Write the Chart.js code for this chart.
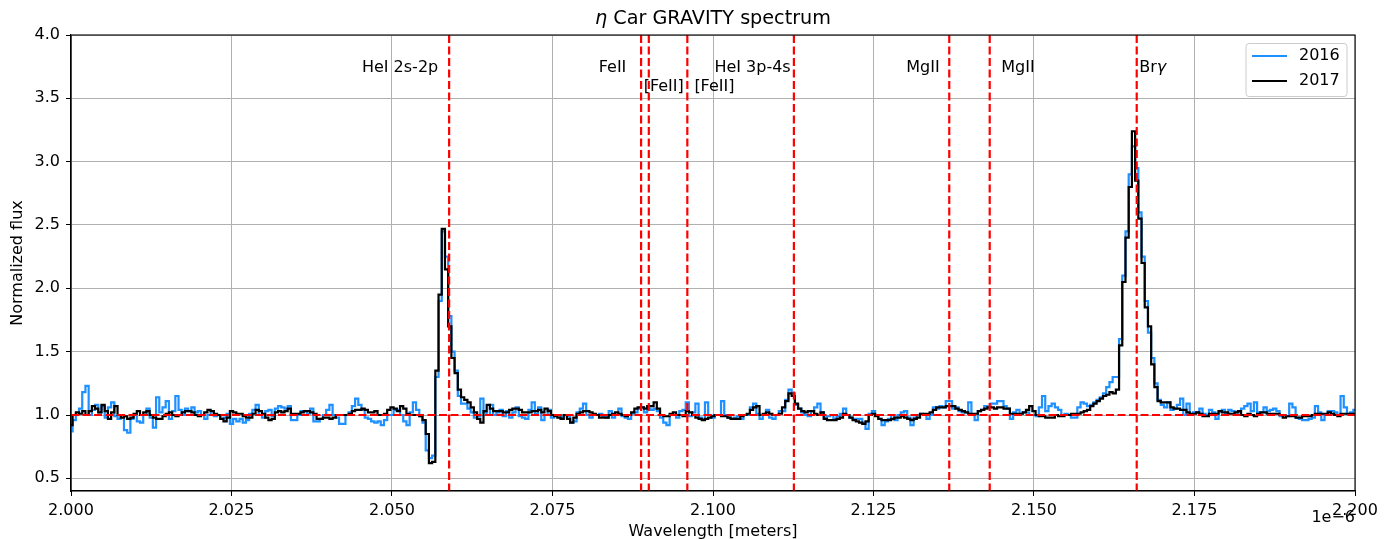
<!DOCTYPE html>
<html><head><meta charset="utf-8">
<script src="https://cdn.jsdelivr.net/npm/chart.js@4/dist/chart.umd.min.js"></script>
<style>html,body{margin:0;padding:0;background:#fff;}#wrap{width:1392px;height:539px;}</style>
</head><body><div id="wrap"><canvas id="c" width="1392" height="539"></canvas></div>
<script>
// Wavelength sampling grid (micrometres; axis shows 1e-6 m)
const wavelengthStart = 2.000;
const wavelengthStep = 0.0005;

const flux2016 = [
0.87,0.96,1.00,1.05,1.18,1.23,1.00,1.04,1.08,1.02,
1.07,0.98,1.06,1.10,0.99,0.97,1.00,0.88,0.86,0.97,
1.00,0.95,0.94,1.00,1.05,0.98,0.90,1.14,1.02,1.06,
1.11,0.97,1.03,1.15,1.04,1.00,1.05,1.03,1.06,1.02,
1.03,1.00,0.97,1.00,1.03,0.99,1.00,0.97,0.98,1.01,
0.93,0.97,0.95,0.97,0.94,0.96,1.01,1.04,1.08,1.00,
0.98,1.03,1.04,0.99,1.05,1.07,1.06,1.05,1.07,0.96,
0.96,1.00,1.03,1.03,1.01,1.05,0.95,0.95,0.97,1.00,
1.04,1.08,1.00,0.98,0.93,0.93,1.00,1.02,1.07,1.13,
1.08,1.04,0.98,0.97,0.95,0.94,0.95,0.92,0.96,1.00,
1.00,1.04,1.04,1.00,0.95,0.92,1.02,1.10,1.04,0.99,
0.94,0.72,0.66,0.68,1.30,1.90,2.45,2.25,1.78,1.50,
1.35,1.15,1.09,1.09,1.05,1.02,0.98,0.99,1.13,1.02,
1.00,1.08,1.00,1.02,1.04,0.99,1.03,0.98,1.02,1.06,
0.99,0.98,0.97,1.04,1.10,1.01,1.06,0.96,1.00,1.04,
0.98,1.00,1.00,0.98,1.00,0.99,0.94,0.95,1.02,1.05,
1.09,1.00,0.98,1.00,1.00,1.01,0.99,0.98,1.03,0.98,
1.00,1.05,0.99,0.98,0.97,1.01,1.02,1.05,1.06,1.02,
1.05,1.04,1.05,1.03,0.98,0.94,0.92,1.00,1.00,0.98,
1.03,1.04,1.10,0.99,1.02,1.09,0.98,0.97,1.10,1.00,
0.98,1.00,1.00,1.11,1.00,0.98,0.97,0.98,0.99,0.97,
1.00,1.00,1.06,1.09,1.01,0.97,1.00,1.04,0.98,0.97,
1.00,1.03,1.03,1.12,1.20,1.17,1.08,1.05,1.02,1.00,
0.99,1.03,1.06,1.09,1.02,0.98,0.99,1.00,0.97,0.99,
1.01,1.05,1.00,0.98,0.97,0.97,0.97,0.94,0.89,1.01,
1.03,1.00,0.97,0.92,0.95,0.97,1.00,0.96,1.00,1.02,
1.03,0.98,0.92,0.98,1.00,1.01,1.00,0.97,1.00,1.06,
1.05,1.07,1.06,1.11,1.11,1.05,1.06,1.03,1.02,1.02,
1.10,1.00,0.96,1.03,1.04,1.07,1.06,1.09,1.09,1.11,
1.11,1.07,1.05,0.97,1.02,1.04,1.01,1.02,1.02,1.00,
1.00,0.99,1.06,1.15,1.03,1.07,1.09,1.06,1.04,1.00,
1.01,1.00,0.98,0.98,1.06,1.10,1.09,1.07,1.08,1.10,
1.12,1.14,1.17,1.22,1.26,1.30,1.30,1.60,2.10,2.45,
2.90,3.12,2.95,2.60,2.25,1.90,1.65,1.45,1.25,1.12,
1.08,1.06,1.10,1.04,1.05,1.08,1.13,1.00,1.09,1.00,
1.02,1.02,1.05,1.01,1.00,1.04,1.02,0.97,1.03,1.04,
1.01,1.04,1.03,1.02,1.02,1.05,1.07,1.09,1.03,1.10,
1.02,1.02,1.06,1.03,1.04,1.05,1.03,0.99,1.00,0.99,
1.09,1.06,0.98,0.97,0.96,0.96,0.97,0.98,1.07,1.02,
0.96,1.00,1.03,1.03,1.02,1.00,1.15,1.06,1.01,1.02,
1.04];

const flux2017 = [
0.92,1.00,1.02,1.01,1.03,1.00,1.03,1.07,1.05,1.02,
1.08,1.03,0.97,1.02,1.07,1.00,0.98,0.99,0.97,0.98,
1.01,1.03,1.00,1.02,1.03,1.00,0.98,0.97,0.97,0.99,
1.01,1.02,1.00,0.99,1.00,1.02,1.03,1.03,1.02,1.00,
0.99,1.00,1.02,1.04,1.03,1.01,1.00,0.97,0.95,0.98,
1.03,1.02,1.01,1.01,0.99,0.98,0.98,1.01,1.04,1.03,
1.01,0.98,0.96,0.97,1.02,1.03,1.02,1.03,1.05,1.01,
1.01,1.01,1.02,1.03,1.03,1.02,1.01,0.97,0.97,0.98,
0.98,0.97,0.98,1.00,1.00,1.00,1.00,1.01,1.03,1.04,
1.04,1.05,1.04,1.02,1.02,1.03,1.00,1.00,1.01,1.04,
1.06,1.05,1.03,1.07,1.05,1.01,1.00,1.00,1.00,0.99,
0.96,0.85,0.62,0.63,1.35,1.95,2.47,2.15,1.70,1.45,
1.33,1.20,1.14,1.12,1.10,1.06,1.02,0.97,0.94,1.03,
1.08,1.05,1.03,1.03,1.03,1.02,1.02,1.04,1.05,1.05,
1.04,1.02,1.02,1.02,1.03,1.03,1.04,1.02,1.05,1.03,
1.00,0.99,0.98,0.97,1.00,0.97,0.94,0.98,1.01,1.02,
1.03,1.03,1.02,1.01,1.00,0.98,0.98,0.98,1.00,1.01,
1.02,1.01,1.00,0.99,1.00,1.02,1.05,1.06,1.06,1.05,
1.07,1.07,1.10,1.05,1.00,0.99,0.99,1.01,1.02,1.00,
1.00,0.99,1.03,1.02,1.00,0.98,0.97,0.96,0.97,0.98,
0.99,1.00,1.00,0.99,0.99,0.98,0.97,0.97,0.97,0.99,
1.00,1.01,1.04,1.06,1.07,1.00,1.01,1.02,1.01,1.00,
1.00,1.01,1.06,1.11,1.17,1.15,1.09,1.05,1.03,1.02,
1.03,1.03,1.01,1.00,1.02,0.97,0.96,0.96,0.96,0.97,
0.98,1.01,1.00,0.98,0.96,0.95,0.94,0.93,0.95,1.00,
1.01,0.99,0.97,0.96,0.96,0.96,0.97,0.98,0.98,0.99,
0.98,0.97,0.96,0.97,0.98,1.01,1.01,1.01,1.02,1.04,
1.06,1.06,1.06,1.07,1.07,1.07,1.05,1.04,1.03,1.02,
1.01,1.01,1.01,1.03,1.04,1.05,1.06,1.06,1.05,1.06,
1.06,1.05,1.05,1.01,1.01,1.01,1.01,1.02,1.04,1.07,
1.03,1.00,0.99,0.99,0.98,0.98,0.98,1.00,0.99,0.99,
1.00,1.00,1.01,1.01,1.01,1.02,1.03,1.04,1.07,1.09,
1.11,1.13,1.15,1.16,1.18,1.17,1.20,1.55,2.05,2.40,
2.80,3.24,2.85,2.55,2.20,1.85,1.70,1.40,1.22,1.11,
1.10,1.10,1.10,1.06,1.05,1.05,1.04,1.04,1.02,1.01,
1.01,1.02,1.01,0.99,0.99,1.01,1.01,1.01,1.03,1.02,
1.02,1.01,1.01,1.02,1.03,1.00,0.99,1.01,1.00,0.99,
1.01,1.02,1.02,1.01,1.01,1.01,1.01,1.00,0.98,0.99,
0.99,0.99,0.98,0.98,0.99,0.99,0.99,1.00,1.01,1.01,
1.01,1.01,1.02,1.01,1.00,0.99,1.01,1.01,1.01,1.01,
1.01];

const lineWavelengths = [2.0589, 2.0888, 2.0900, 2.0960, 2.1126, 2.1368, 2.1431, 2.1660];
const lineNames = ["HeI 2s-2p", "FeII", "[FeII]", "[FeII]", "HeI 3p-4s", "MgII", "MgII", "Brγ"];
const continuumLevel = 1.0;
const xTicks = [2.000, 2.025, 2.050, 2.075, 2.100, 2.125, 2.150, 2.175, 2.200];
const yTicks = [0.5, 1.0, 1.5, 2.0, 2.5, 3.0, 3.5, 4.0];
const seriesNames = ["2016", "2017"];

const wavelength = flux2016.map((_, i) => +(wavelengthStart + i * wavelengthStep).toFixed(4));

// label placement (data coords) for each line label
const labelPlacement = [
  {x: 2.0572, y: 3.74, align: 'right'},
  {x: 2.0865, y: 3.74, align: 'right'},
  {x: 2.0892, y: 3.59, align: 'left'},
  {x: 2.0971, y: 3.59, align: 'left'},
  {x: 2.1121, y: 3.74, align: 'right'},
  {x: 2.1353, y: 3.74, align: 'right'},
  {x: 2.1449, y: 3.74, align: 'left'},
  {x: 2.1664, y: 3.74, align: 'left'}
];

const FONT = '"DejaVu Sans", sans-serif';
const FS = 16;
Chart.defaults.font.family = FONT;
Chart.defaults.font.size = FS;
Chart.defaults.color = '#000';

const datasets = [
  {label: seriesNames[0], data: wavelength.map((w, i) => ({x: w, y: flux2016[i]})),
   borderColor: '#1e90ff', borderWidth: 2.2, stepped: 'middle', pointRadius: 0, order: 3, fill: false},
  {label: seriesNames[1], data: wavelength.map((w, i) => ({x: w, y: flux2017[i]})),
   borderColor: '#000000', borderWidth: 2.2, stepped: 'middle', pointRadius: 0, order: 2, fill: false},
  {label: 'continuum', data: [{x: xTicks[0], y: continuumLevel}, {x: xTicks[xTicks.length - 1], y: continuumLevel}],
   borderColor: '#ff0000', borderWidth: 2.2, borderDash: [8, 3.5], pointRadius: 0, order: 1, fill: false}
];
lineWavelengths.forEach(w => {
  datasets.push({label: 'line', data: [{x: w, y: 4.0}, {x: w, y: 0.4}],
    borderColor: '#ff0000', borderWidth: 2.2, borderDash: [8, 3.5], pointRadius: 0, order: 0, fill: false});
});

const overlay = {
  id: 'overlay',
  afterDraw(chart) {
    const {ctx, chartArea: a, scales: {x, y}} = chart;
    ctx.save();
    // axes frame
    ctx.strokeStyle = '#000'; ctx.lineWidth = 1.1; ctx.setLineDash([]);
    ctx.strokeRect(a.left, a.top, a.right - a.left, a.bottom - a.top);

    // line labels
    ctx.fillStyle = '#000'; ctx.textBaseline = 'middle';
    lineNames.forEach((name, i) => {
      const p = labelPlacement[i];
      const px = x.getPixelForValue(p.x), py = y.getPixelForValue(p.y);
      if (name.endsWith('γ')) {
        ctx.font = FS + 'px ' + FONT;
        const base = name.slice(0, -1);
        ctx.textAlign = 'left';
        ctx.fillText(base, px, py);
        const w = ctx.measureText(base).width;
        ctx.font = 'italic ' + FS + 'px ' + FONT;
        ctx.fillText('γ', px + w, py);
      } else {
        ctx.font = FS + 'px ' + FONT;
        ctx.textAlign = p.align;
        ctx.fillText(name, px, py);
      }
    });

    // title
    const cx = (a.left + a.right) / 2;
    const TS = 19.2;
    ctx.font = 'italic ' + TS + 'px ' + FONT;
    const etaW = ctx.measureText('η').width;
    ctx.font = TS + 'px ' + FONT;
    const rest = ' Car GRAVITY spectrum';
    const restW = ctx.measureText(rest).width;
    const tx = cx - (etaW + restW) / 2;
    ctx.textAlign = 'left'; ctx.textBaseline = 'middle';
    ctx.font = 'italic ' + TS + 'px ' + FONT;
    ctx.fillText('η', tx, 19);
    ctx.font = TS + 'px ' + FONT;
    ctx.fillText(rest, tx + etaW, 19);

    // axis labels
    ctx.font = FS + 'px ' + FONT;
    ctx.textAlign = 'center'; ctx.textBaseline = 'middle';
    ctx.fillText('Wavelength [meters]', cx, 532);
    ctx.save();
    ctx.translate(18, (a.top + a.bottom) / 2);
    ctx.rotate(-Math.PI / 2);
    ctx.textBaseline = 'middle';
    ctx.fillText('Normalized flux', 0, 0);
    ctx.restore();
    ctx.textAlign = 'right'; ctx.textBaseline = 'middle';
    ctx.fillText('1e\u22126', a.right, 518);

    // legend
    const lx = 1246, ly = 43.5, lw = 101, lh = 53;
    ctx.beginPath();
    ctx.roundRect(lx, ly, lw, lh, 3);
    ctx.fillStyle = 'rgba(255,255,255,0.8)';
    ctx.fill();
    ctx.strokeStyle = '#cccccc'; ctx.lineWidth = 1;
    ctx.stroke();
    const cols = ['#1e90ff', '#000000'];
    seriesNames.forEach((n, i) => {
      const yy = 56 + i * 25;
      ctx.strokeStyle = cols[i]; ctx.lineWidth = 2.2;
      ctx.beginPath(); ctx.moveTo(1252, yy); ctx.lineTo(1287, yy); ctx.stroke();
      ctx.fillStyle = '#000'; ctx.textAlign = 'left'; ctx.textBaseline = 'middle';
      ctx.font = FS + 'px ' + FONT;
      ctx.fillText(n, 1299, yy);
    });
    ctx.restore();
  }
};

new Chart(document.getElementById('c'), {
  type: 'scatter',
  data: {datasets},
  options: {
    responsive: false, animation: false, devicePixelRatio: 1,
    showLine: true,
    layout: {padding: {top: 35, right: 37, left: 0, bottom: 0}},
    plugins: {legend: {display: false}, tooltip: {enabled: false}, title: {display: false}},
    elements: {line: {tension: 0}},
    scales: {
      x: {
        type: 'linear', min: 2.0, max: 2.2,
        afterBuildTicks: s => { s.ticks = xTicks.map(v => ({value: v})); },
        afterFit: s => { s.height = 48; },
        ticks: {callback: v => v.toFixed(3), autoSkip: false, maxRotation: 0, padding: 5, color: '#000'},
        grid: {color: '#b0b0b0', lineWidth: 1, tickLength: 5, tickColor: '#000', tickWidth: 1},
        border: {display: true, color: '#000', width: 1.1}
      },
      y: {
        type: 'linear', min: 0.4, max: 4.0,
        afterBuildTicks: s => { s.ticks = yTicks.map(v => ({value: v})); },
        afterFit: s => { s.width = 71; },
        ticks: {callback: v => v.toFixed(1), autoSkip: false, padding: 6, color: '#000'},
        grid: {color: '#b0b0b0', lineWidth: 1, tickLength: 5, tickColor: '#000', tickWidth: 1},
        border: {display: true, color: '#000', width: 1.1}
      }
    }
  },
  plugins: [overlay]
});
</script></body></html>
